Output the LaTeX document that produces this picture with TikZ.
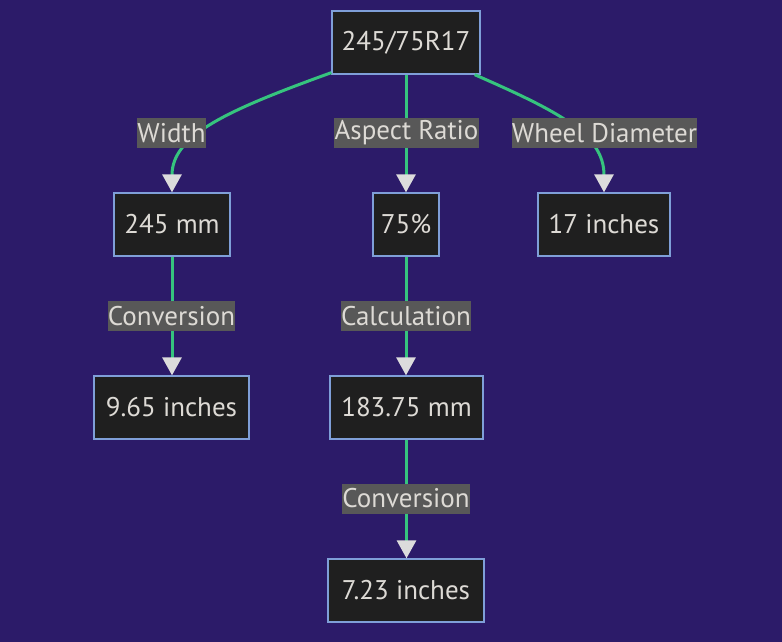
\documentclass[tikz,border=0pt]{standalone}
\usepackage{fontspec}
\setmainfont{PT Sans}
\usetikzlibrary{arrows.meta}
\definecolor{bg}{HTML}{2C1B69}
\definecolor{nodefill}{HTML}{1F1F1F}
\definecolor{nodeborder}{HTML}{7F9FD8}
\definecolor{edgecol}{HTML}{36C47E}
\definecolor{lblbg}{HTML}{585858}
\definecolor{txt}{HTML}{DDDAD5}
\definecolor{arrowcol}{HTML}{DCDCDC}
\begin{document}
\begin{tikzpicture}[x=1pt,y=-1pt,
  box/.style={draw=nodeborder, fill=nodefill, line width=1.3pt, text=txt, inner sep=0pt,
    minimum height=63pt, font=\fontsize{27}{32}\selectfont},
  lbl/.style={fill=lblbg, text=txt, inner sep=0pt, minimum height=30pt,
    font=\fontsize{27}{32}\selectfont},
  edge/.style={draw=edgecol, line width=3pt,
    -{Triangle[length=18pt 0,width=19pt 0,color=arrowcol,fill=arrowcol]}}]
\fill[bg] (0,0) rectangle (782,642);
\useasboundingbox (0,0) rectangle (782,642);
% boxes
\node[box, minimum width=148pt] (top) at (406,42.5) {245/75R17};
\node[box, minimum width=116pt] (w245) at (172,224.5) {245 mm};
\node[box, minimum width=66pt] (p75) at (406,224.5) {75\%};
\node[box, minimum width=132pt] (d17) at (604,224.5) {17 inches};
\node[box, minimum width=155pt] (i965) at (171.5,407.5) {9.65 inches};
\node[box, minimum width=153pt] (m18375) at (406.5,407.5) {183.75 mm};
\node[box, minimum width=156pt] (i723) at (406,590.5) {7.23 inches};
% edges
\draw[edge] ([yshift=2pt]top.south west) .. controls (228,110) and (172,135) .. (w245.north);
\draw[edge] (top.south) -- (p75.north);
\draw[edge] ([xshift=-6pt]top.south east) .. controls (560,112) and (604,135) .. (d17.north);
\draw[edge] (w245.south) -- (w245.south |- i965.north);
\draw[edge] (p75.south) -- (p75.south |- m18375.north);
\draw[edge] (m18375.south) -- (m18375.south |- i723.north);
% labels
\node[lbl, minimum width=67pt] (lw) at (171.5,133) {Width};
\node[lbl, minimum width=145pt] (la) at (406.5,133) {Aspect Ratio};
\node[lbl, minimum width=185pt] (ld) at (604.5,133) {Wheel Diameter};
\node[lbl, minimum width=125pt] (lc1) at (171.5,316) {Conversion};
\node[lbl, minimum width=130pt] (lcalc) at (406,316) {Calculation};
\node[lbl, minimum width=126pt] (lc2) at (406,498.5) {Conversion};
\end{tikzpicture}
\end{document}
